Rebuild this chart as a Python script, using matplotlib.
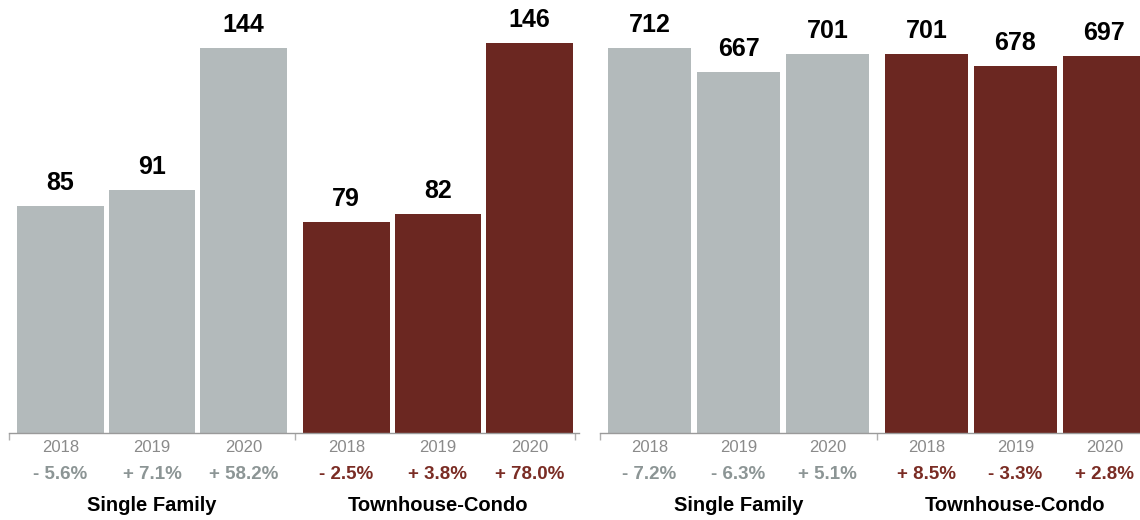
import numpy as np
import matplotlib
matplotlib.use("Agg")
import matplotlib.pyplot as plt

plt.rcParams['font.family'] = ['Liberation Sans', 'DejaVu Sans']

years = ['2018', '2019', '2020']
groups = ['Single Family', 'Townhouse-Condo']

# left panel
left_sf = [85, 91, 144]
left_tc = [79, 82, 146]
left_sf_chg = ['- 5.6%', '+ 7.1%', '+ 58.2%']
left_tc_chg = ['- 2.5%', '+ 3.8%', '+ 78.0%']

# right panel
right_sf = [712, 667, 701]
right_tc = [701, 678, 697]
right_sf_chg = ['- 7.2%', '- 6.3%', '+ 5.1%']
right_tc_chg = ['+ 8.5%', '- 3.3%', '+ 2.8%']

GREY = '#b3babb'
RED = '#6b2721'
GREY_TXT = '#8c9595'
RED_TXT = '#7a2c24'
YEAR_TXT = '#8a8a8a'


def draw_panel(ax, sf, tc, sf_chg, tc_chg, gap, width, xlim, ylim):
    x_sf = np.arange(3)
    x_tc = np.arange(3) + 3 + gap
    ax.bar(x_sf, sf, width=width, color=GREY)
    ax.bar(x_tc, tc, width=width, color=RED)

    xs = np.concatenate([x_sf, x_tc])
    vals = sf + tc
    chgs = sf_chg + tc_chg
    cols = [GREY_TXT] * 3 + [RED_TXT] * 3
    for i, (x, v, c, col) in enumerate(zip(xs, vals, chgs, cols)):
        ax.annotate(str(v), (x, v), xytext=(0, 11.5), textcoords='offset points',
                    ha='center', va='baseline', fontsize=18, fontweight='bold')
        ax.annotate(years[i % 3], (x, 0),
                    xycoords=('data', 'axes fraction'), xytext=(0, -13.4),
                    textcoords='offset points', ha='center', va='baseline',
                    fontsize=12, color=YEAR_TXT)
        ax.annotate(c, (x, 0), xycoords=('data', 'axes fraction'), xytext=(0, -33.3),
                    textcoords='offset points', ha='center', va='baseline',
                    fontsize=13.5, fontweight='bold', color=col)
    for gx, name in zip([x_sf[1], x_tc[1]], groups):
        ax.annotate(name, (gx, 0), xycoords=('data', 'axes fraction'), xytext=(0, -56),
                    textcoords='offset points', ha='center', va='baseline',
                    fontsize=14.5, fontweight='bold')

    ax.set_xlim(*xlim)
    ax.set_ylim(*ylim)
    for s in ['top', 'right', 'left']:
        ax.spines[s].set_visible(False)
    ax.spines['bottom'].set_color('#9a9a9a')
    ax.spines['bottom'].set_linewidth(1.0)
    ax.set_yticks([])
    ticks = [t for t in [xlim[0], 2.5 + gap / 2, 5.5 + gap] if t <= xlim[1] + 1e-9]
    ax.set_xticks(ticks)
    ax.set_xticklabels([])
    ax.tick_params(axis='x', length=5, width=1, color='#b0b0b0')


fig = plt.figure(figsize=(11.4, 5.2), dpi=100)
ax1 = fig.add_axes([9 / 1140, 87 / 520, 570 / 1140, 433 / 520])
ax2 = fig.add_axes([600 / 1140, 87 / 520, 540 / 1140, 433 / 520])

draw_panel(ax1, left_sf, left_tc, left_sf_chg, left_tc_chg,
           gap=0.12, width=0.945, xlim=(-0.56, 5.66), ylim=(0, 162))
draw_panel(ax2, right_sf, right_tc, right_sf_chg, right_tc_chg,
           gap=0.11, width=0.93, xlim=(-0.556, 5.51), ylim=(0, 800))

fig.savefig('out.png', dpi=100)
